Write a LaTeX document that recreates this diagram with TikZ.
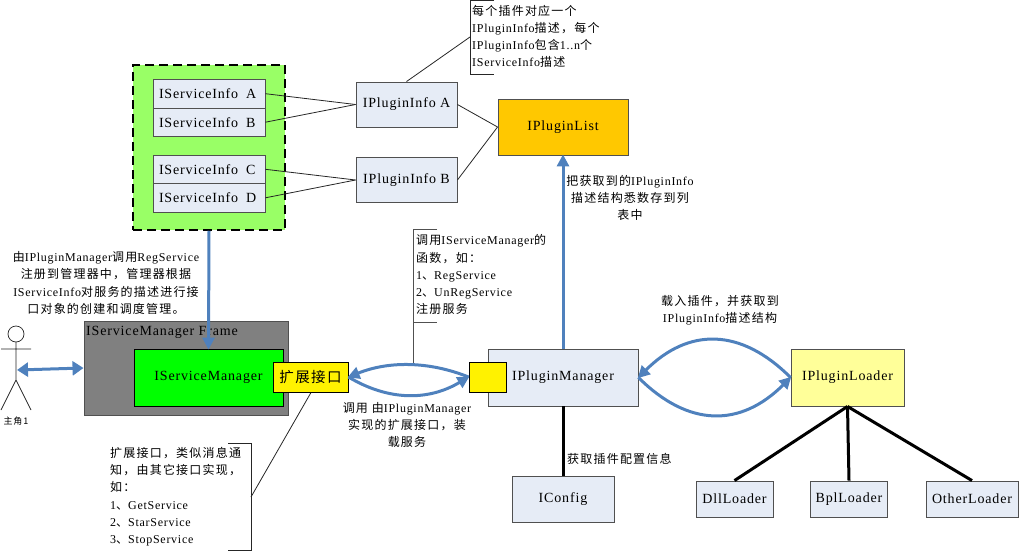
\documentclass[tikz,border=0pt]{standalone}
\usepackage{fontspec}
\setmainfont{Liberation Serif}[LetterSpace=6]
\newfontfamily\cjk{Noto Sans CJK SC}[LetterSpace=10]
\newcommand{\zh}[1]{{\cjk #1}}
\usetikzlibrary{arrows.meta,positioning}
\definecolor{boxfill}{HTML}{E6ECF6}
\definecolor{edgegray}{HTML}{505050}
\definecolor{flowblue}{HTML}{4F81BD}
\tikzset{
  boxn/.style={draw=edgegray,line width=0.9pt,fill=boxfill,inner sep=0pt,font=\fontsize{14}{16}\selectfont,text=black},
  note/.style={inner sep=0pt,font=\fontsize{12}{17.2}\selectfont,text=black},
  flow/.style={draw=flowblue,line width=3pt,-{Triangle[length=12pt,width=12pt]},shorten >=-1pt},
  flowtwo/.style={draw=flowblue,line width=3pt,{Triangle[length=11pt,width=14pt]}-{Triangle[length=11pt,width=14pt]}},
  thin link/.style={draw=black!85,line width=0.8pt},
  heavy link/.style={draw=black,line width=3pt},
}
\newcommand{\svc}[1]{\makebox[100pt][l]{IServiceInfo\hspace{8pt}#1}}
\begin{document}
\begin{tikzpicture}[x=1pt,y=-1pt]
\useasboundingbox (0,0) rectangle (1019,551);
% green group
\node[draw=black,dash pattern=on 9pt off 5pt,line width=1.5pt,fill={rgb,255:red,153;green,255;blue,102},minimum width=152pt,minimum height=165pt,inner sep=0pt] (group) at (209,147.5) {};
\node[boxn,minimum width=112pt,minimum height=28.5pt] (sa) at (209,93.7) {\svc{A}};
\node[boxn,minimum width=112pt,minimum height=28.5pt] (sb) at (209,122.2) {\svc{B}};
\node[boxn,minimum width=112pt,minimum height=28.5pt] (sc) at (209,169.3) {\svc{C}};
\node[boxn,minimum width=112pt,minimum height=28.5pt] (sd) at (209,197.8) {\svc{D}};
\node[boxn,minimum width=101pt,minimum height=45pt] (pa) at (406.5,104.5) {IPluginInfo A};
\node[boxn,minimum width=101pt,minimum height=45pt] (pb) at (406.5,180) {IPluginInfo B};
\node[boxn,fill={rgb,255:red,255;green,200;blue,0},minimum width=130pt,minimum height=56pt] (list) at (563,127) {IPluginList};
\draw[thin link] (sa.east) -- (pa.west);
\draw[thin link] (sb.east) -- (pa.west);
\draw[thin link] (sc.east) -- (pb.west);
\draw[thin link] (sd.east) -- (pb.west);
\draw[thin link] (pa.east) -- (list.west);
\draw[thin link] (pb.east) -- (list.west);
% top note
\coordinate (n1a) at (494,0.5);\coordinate (n1b) at (470,0.5);\coordinate (n1c) at (470,74);\coordinate (n1d) at (494,74);\coordinate (n1m) at (470,37);
\draw[thin link] (n1a) -- (n1b) -- (n1c) -- (n1d);
\draw[thin link] (pa.north) -- (n1m);
\node[note,align=left,anchor=north west] (n1) at (472,5) {\zh{每个插件对应一个}\\IPluginInfo\zh{描述，每个}\\IPluginInfo\zh{包含}1..n\zh{个}\\IServiceInfo\zh{描述}};
% frame
\node[draw=edgegray,line width=0.9pt,fill={rgb,255:red,128;green,128;blue,128},minimum width=204pt,minimum height=94pt,inner sep=0pt] (frame) at (186,368) {};
\node[inner sep=0pt,anchor=west,font=\fontsize{14}{16}\selectfont] (framel) at (86,332) {IServiceManager Frame};
\node[draw=black,line width=0.9pt,fill={rgb,255:red,0;green,255;blue,0},minimum width=149pt,minimum height=57pt,inner sep=0pt,font=\fontsize{14}{16}\selectfont] (ism) at (208.5,377.5) {IServiceManager};
\node[draw=black,line width=0.9pt,fill=yellow,minimum width=75pt,minimum height=30pt,inner sep=0pt] (ext) at (310.5,377) {\cjk\fontsize{14.5}{16}\selectfont 扩展接口};
% actor
\coordinate (hd) at (16,334);
\draw[thin link,line width=0.7pt,fill=white] (hd) circle (8pt);
\coordinate (neck) at (16,342);\coordinate (hip) at (16,380);
\coordinate (arml) at (1,349);\coordinate (armr) at (31,349);
\coordinate (legl) at (1,410);\coordinate (legr) at (31,410);
\draw[thin link,line width=0.7pt] (neck) -- (hip) (arml) -- (armr) (legl) -- (hip) -- (legr);
\node[inner sep=0pt] (actor) at (16,421) {\cjk\fontsize{9}{11}\selectfont 主角1};
\coordinate (actorr) at (17,370);
\draw[flowtwo] (actorr) -- (frame.west);
% service arrow
\draw[flow] (group.south) -- (ism.north);
\node[note,align=center] (n2) at (106,283) {\zh{由}IPluginManager\zh{调用}RegService\\\zh{注册到管理器中，管理器根据}\\IServiceInfo\zh{对服务的描述进行接}\\\zh{口对象的创建和调度管理。}};
% extension note
\coordinate (n3a) at (228,443.5);\coordinate (n3b) at (251,443.5);\coordinate (n3c) at (251,550);\coordinate (n3d) at (228,550);\coordinate (n3m) at (251,497);\coordinate (n3t) at (311,392.5);
\draw[thin link] (n3a) -- (n3b) -- (n3c) -- (n3d);
\draw[thin link] (n3m) -- (n3t);
\node[note,align=left,anchor=north west] (n3) at (110,447) {\zh{扩展接口，类似消息通}\\\zh{知，由其它接口实现，}\\\zh{如：}\\1\zh{、}GetService\\2\zh{、}StarService\\3\zh{、}StopService};
% plugin manager
\node[boxn,minimum width=150pt,minimum height=57pt] (pm) at (563,377.5) {IPluginManager};
\node[draw=black,line width=0.9pt,fill=yellow,minimum width=37pt,minimum height=30pt,inner sep=0pt] (port) at (487.5,377) {};
% register note
\coordinate (n4a) at (437,229);\coordinate (n4b) at (413,229);\coordinate (n4c) at (413,322);\coordinate (n4d) at (437,322);\coordinate (n4e) at (413,366);
\draw[draw=edgegray,line width=1pt] (n4a) -- (n4b) -- (n4e);
\draw[draw=edgegray,line width=1pt] (n4c) -- (n4d);
\node[note,align=left,anchor=north west] (n4) at (416,234.5) {\zh{调用}IServiceManager\zh{的}\\\zh{函数，如：}\\1\zh{、}RegService\\2\zh{、}UnRegService\\\zh{注册服务}};
% arcs
\draw[flow] (port.west) .. controls +(-40,-16) and +(40,-16) .. (ext.east);
\draw[flow] (ext.east) .. controls +(40,24) and +(-40,24) .. (port.west);
\node[note,align=center] (n5) at (407,425) {\zh{调用 由}IPluginManager\\\zh{实现的扩展接口，装}\\\zh{载服务}};
% list arrow
\draw[flow] (pm.north) -- (list.south);
\node[note,align=center] (n6) at (630,198) {\zh{把获取到的}IPluginInfo\\\zh{描述结构悉数存到列}\\\zh{表中}};
% config
\node[boxn,minimum width=102pt,minimum height=46pt] (cfg) at (563,499) {IConfig};
\draw[heavy link] (pm.south) -- (cfg.north);
\node[note,anchor=west] (n7) at (567,459) {\zh{获取插件配置信息}};
% loader
\node[boxn,fill={rgb,255:red,255;green,255;blue,153},minimum width=113pt,minimum height=57pt] (pl) at (847.5,377.5) {IPluginLoader};
\draw[flow] (pl.west) .. controls +(-50,-50) and +(50,-50) .. (pm.east);
\draw[flow] (pm.east) .. controls +(50,50) and +(-50,50) .. (pl.west);
\node[note,align=center] (n8) at (720,310) {\zh{载入插件，并获取到}\\IPluginInfo\zh{描述结构}};
\node[boxn,minimum width=77pt,minimum height=36pt] (dl) at (734.5,499) {DllLoader};
\node[boxn,minimum width=77pt,minimum height=36pt] (bl) at (849,499) {BplLoader};
\node[boxn,minimum width=92pt,minimum height=36pt] (ol) at (972,499) {OtherLoader};
\draw[heavy link] (pl.south) -- (dl.north);
\draw[heavy link] (pl.south) -- (bl.north);
\draw[heavy link] (pl.south) -- (ol.north);
\end{tikzpicture}
\end{document}
